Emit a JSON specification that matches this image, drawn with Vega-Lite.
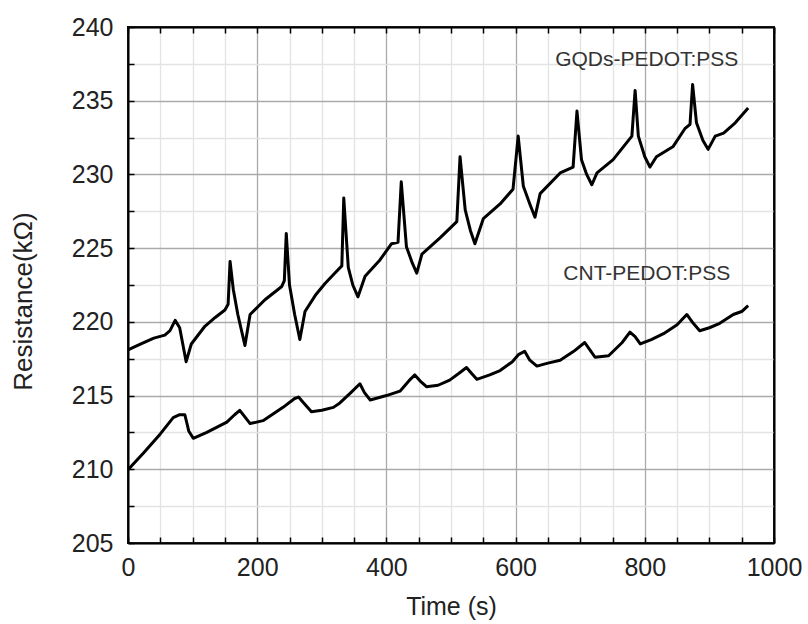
{
  "$schema": "https://vega.github.io/schema/vega-lite/v6.json",
  "width": 646,
  "height": 516,
  "autosize": "none",
  "padding": {"left": 128, "top": 27, "right": 34, "bottom": 81},
  "background": "white",
  "config": {
    "font": "Liberation Sans",
    "view": {"stroke": "black", "strokeWidth": 2}
  },
  "datasets": {
    "gqd": [
      {"t":0,"R":218.1},{"t":20,"R":218.5},{"t":40,"R":218.9},{"t":57,"R":219.1},{"t":65,"R":219.4},{"t":73,"R":220.1},{"t":80,"R":219.6},{"t":90,"R":217.3},{"t":98,"R":218.5},{"t":119,"R":219.7},{"t":135,"R":220.3},{"t":150,"R":220.8},{"t":155,"R":221.2},{"t":158,"R":224.1},{"t":163,"R":222.2},{"t":170,"R":220.5},{"t":181,"R":218.4},{"t":189,"R":220.5},{"t":212,"R":221.5},{"t":238,"R":222.4},{"t":242,"R":222.8},{"t":245,"R":226.0},{"t":250,"R":222.5},{"t":258,"R":220.5},{"t":266,"R":218.8},{"t":274,"R":220.7},{"t":290,"R":221.8},{"t":305,"R":222.6},{"t":320,"R":223.3},{"t":331,"R":223.8},{"t":334,"R":228.4},{"t":341,"R":223.7},{"t":348,"R":222.5},{"t":356,"R":221.7},{"t":367,"R":223.1},{"t":390,"R":224.2},{"t":408,"R":225.3},{"t":418,"R":225.4},{"t":423,"R":229.5},{"t":431,"R":225.1},{"t":440,"R":224.0},{"t":447,"R":223.3},{"t":455,"R":224.6},{"t":483,"R":225.7},{"t":509,"R":226.8},{"t":514,"R":231.2},{"t":522,"R":227.6},{"t":530,"R":226.2},{"t":537,"R":225.3},{"t":550,"R":227.0},{"t":576,"R":228.0},{"t":596,"R":229.0},{"t":604,"R":232.6},{"t":612,"R":229.2},{"t":622,"R":228.0},{"t":630,"R":227.1},{"t":638,"R":228.7},{"t":669,"R":230.1},{"t":689,"R":230.5},{"t":695,"R":234.3},{"t":702,"R":231.0},{"t":710,"R":230.0},{"t":718,"R":229.3},{"t":726,"R":230.1},{"t":751,"R":231.0},{"t":780,"R":232.6},{"t":785,"R":235.7},{"t":790,"R":232.6},{"t":800,"R":231.2},{"t":808,"R":230.5},{"t":818,"R":231.2},{"t":844,"R":231.9},{"t":862,"R":233.1},{"t":870,"R":233.4},{"t":874,"R":236.1},{"t":880,"R":233.5},{"t":890,"R":232.3},{"t":898,"R":231.7},{"t":909,"R":232.6},{"t":922,"R":232.8},{"t":940,"R":233.5},{"t":960,"R":234.5}
    ],
    "cnt": [
      {"t":0,"R":210.0},{"t":5,"R":210.2},{"t":24,"R":211.1},{"t":50,"R":212.4},{"t":70,"R":213.5},{"t":80,"R":213.7},{"t":88,"R":213.7},{"t":94,"R":212.6},{"t":101,"R":212.1},{"t":122,"R":212.5},{"t":153,"R":213.2},{"t":165,"R":213.7},{"t":173,"R":214.0},{"t":180,"R":213.6},{"t":189,"R":213.1},{"t":209,"R":213.3},{"t":240,"R":214.2},{"t":258,"R":214.8},{"t":264,"R":214.9},{"t":272,"R":214.5},{"t":284,"R":213.9},{"t":300,"R":214.0},{"t":318,"R":214.2},{"t":328,"R":214.5},{"t":345,"R":215.2},{"t":359,"R":215.8},{"t":366,"R":215.2},{"t":375,"R":214.7},{"t":400,"R":215.0},{"t":421,"R":215.3},{"t":437,"R":216.1},{"t":444,"R":216.4},{"t":452,"R":216.0},{"t":462,"R":215.6},{"t":480,"R":215.7},{"t":498,"R":216.05},{"t":515,"R":216.6},{"t":524,"R":216.9},{"t":532,"R":216.5},{"t":540,"R":216.1},{"t":560,"R":216.4},{"t":576,"R":216.7},{"t":595,"R":217.3},{"t":605,"R":217.8},{"t":614,"R":218.0},{"t":622,"R":217.4},{"t":633,"R":217.0},{"t":650,"R":217.2},{"t":669,"R":217.4},{"t":690,"R":218.0},{"t":707,"R":218.6},{"t":715,"R":218.1},{"t":723,"R":217.6},{"t":744,"R":217.7},{"t":765,"R":218.6},{"t":777,"R":219.3},{"t":785,"R":219.0},{"t":793,"R":218.5},{"t":810,"R":218.8},{"t":829,"R":219.2},{"t":850,"R":219.8},{"t":865,"R":220.5},{"t":875,"R":219.9},{"t":885,"R":219.4},{"t":900,"R":219.6},{"t":916,"R":219.9},{"t":937,"R":220.5},{"t":950,"R":220.7},{"t":960,"R":221.1}
    ],
    "labels": [
      {"t":803,"R":237.73,"label":"GQDs-PEDOT:PSS"},
      {"t":803,"R":223.28,"label":"CNT-PEDOT:PSS"}
    ]
  },
  "resolve": {"axis": {"x": "independent", "y": "independent"}},
  "layer": [
    {
      "data": {"name": "gqd"},
      "mark": {"type": "line", "color": "black", "strokeWidth": 3, "strokeJoin": "round"},
      "encoding": {
        "x": {
          "field": "t", "type": "quantitative",
          "scale": {"domain": [0, 1000], "nice": false},
          "axis": {
            "orient": "bottom",
            "values": [0,50,100,150,200,250,300,350,400,450,500,550,600,650,700,750,800,850,900,950,1000],
            "format": "d",
            "grid": true,
            "gridColor": {"condition": {"test": "datum.value % 200 === 0", "value": "#aaaaaa"}, "value": "#e3e3e3"},
            "gridWidth": 1.3,
            "tickSize": -6,
            "tickColor": "black",
            "tickWidth": 1.5,
            "labelExpr": "datum.value % 200 === 0 ? datum.label : ''",
            "labelFlush": false,
            "labelOverlap": false,
            "labelFontSize": 25,
            "labelColor": "#222",
            "labelPadding": 18,
            "domainColor": "black",
            "domainWidth": 2,
            "title": "Time (s)",
            "titleFontSize": 25,
            "titleFontWeight": "normal",
            "titleColor": "#222",
            "titlePadding": 14
          }
        },
        "y": {
          "field": "R", "type": "quantitative",
          "scale": {"domain": [205, 240], "nice": false, "zero": false},
          "axis": {
            "orient": "left",
            "values": [205,207.5,210,212.5,215,217.5,220,222.5,225,227.5,230,232.5,235,237.5,240],
            "grid": true,
            "gridColor": {"condition": {"test": "datum.value % 5 === 0", "value": "#aaaaaa"}, "value": "#e3e3e3"},
            "gridWidth": 1.3,
            "tickSize": -6,
            "tickColor": "black",
            "tickWidth": 1.5,
            "labelExpr": "datum.value % 5 === 0 ? datum.label : ''",
            "labelOverlap": false,
            "labelFlush": false,
            "labelFontSize": 25,
            "labelColor": "#222",
            "labelPadding": 21,
            "domainColor": "black",
            "domainWidth": 2,
            "title": "Resistance(kΩ)",
            "titleFontSize": 26,
            "titleFontWeight": "normal",
            "titleColor": "#222",
            "titlePadding": 35,
            "titleY": 274
          }
        }
      }
    },
    {
      "data": {"name": "cnt"},
      "mark": {"type": "line", "color": "black", "strokeWidth": 3, "strokeJoin": "round"},
      "encoding": {
        "x": {
          "field": "t", "type": "quantitative",
          "axis": {
            "orient": "top",
            "values": [0,50,100,150,200,250,300,350,400,450,500,550,600,650,700,750,800,850,900,950,1000],
            "grid": false,
            "labels": false,
            "tickSize": -6,
            "tickColor": "black",
            "tickWidth": 1.5,
            "domainColor": "black",
            "domainWidth": 2,
            "title": null
          }
        },
        "y": {
          "field": "R", "type": "quantitative",
          "axis": {
            "orient": "right",
            "grid": false,
            "labels": false,
            "ticks": false,
            "domainColor": "black",
            "domainWidth": 2,
            "title": null
          }
        }
      }
    },
    {
      "data": {"name": "labels"},
      "mark": {"type": "text", "fontSize": 21, "color": "#333", "align": "center", "baseline": "middle"},
      "encoding": {
        "x": {"field": "t", "type": "quantitative", "axis": null},
        "y": {"field": "R", "type": "quantitative", "axis": null},
        "text": {"field": "label"}
      }
    }
  ]
}
